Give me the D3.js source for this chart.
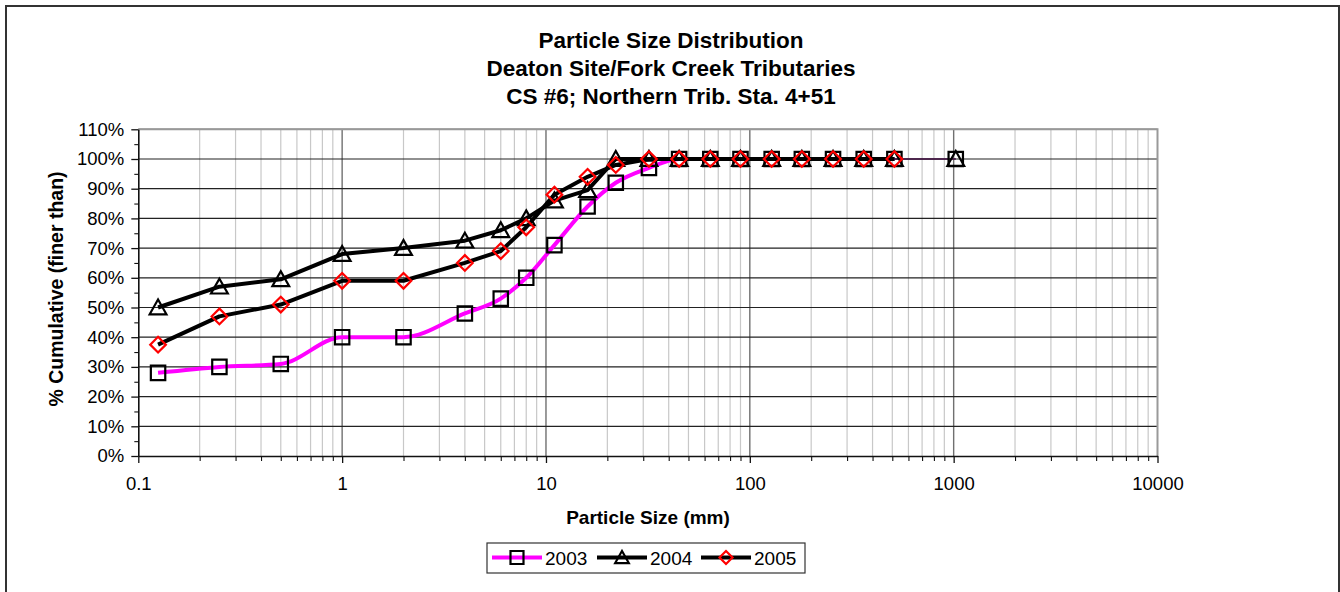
<!DOCTYPE html>
<html>
<head>
<meta charset="utf-8">
<script src="https://cdn.jsdelivr.net/npm/d3@7"></script>
<style>
  html, body { margin: 0; padding: 0; background: #fff; }
  svg { display: block; font-family: "Liberation Sans", Arial, sans-serif; }
</style>
</head>
<body>
<svg id="chart" width="1340" height="592"></svg>
<script>
// Sieve sizes (mm) and cumulative percent finer for each survey year
const sizes = [0.125, 0.25, 0.5, 1, 2, 4, 6, 8, 11, 16, 22, 32, 45, 64, 90, 128, 180, 256, 362, 512, 1024];
const pct2003 = [28, 30, 31, 40, 40, 48, 53, 60, 71, 84, 92, 97, 100, 100, 100, 100, 100, 100, 100, 100, 100];
const pct2004 = [50, 57, 59.5, 68, 70, 72.5, 76, 80, 86, 89.5, 100, 100, 100, 100, 100, 100, 100, 100, 100, 100, 100];
const pct2005 = [37.5, 47, 51, 59, 59, 65, 69, 77, 88, 94, 98, 100, 100, 100, 100, 100, 100, 100, 100, 100];

const years = ["2003", "2004", "2005"];
const xTicks = [0.1, 1, 10, 100, 1000, 10000];
const xTickLabels = ["0.1", "1", "10", "100", "1000", "10000"];
const yTicks = [0, 10, 20, 30, 40, 50, 60, 70, 80, 90, 100, 110];
const titleLines = ["Particle Size Distribution", "Deaton Site/Fork Creek Tributaries", "CS #6; Northern Trib. Sta. 4+51"];

const svg = d3.select("#chart");
const plot = { left: 138.3, right: 1157.5, top: 129.3, bottom: 456 };

const x = d3.scaleLog().domain([0.1, 10000]).range([plot.left, plot.right]);
const y = d3.scaleLinear().domain([0, 110]).range([plot.bottom, plot.top]);

// outer chart frame
svg.append("rect")
  .attr("x", 6).attr("y", 6).attr("width", 1333).attr("height", 600)
  .attr("fill", "#fff").attr("stroke", "#333").attr("stroke-width", 2);

// titles
svg.append("g").selectAll("text").data(titleLines).join("text")
  .attr("x", 671).attr("y", (d, i) => 48 + i * 28)
  .attr("text-anchor", "middle").attr("font-weight", "bold").attr("font-size", 22.5)
  .text(d => d);

// vertical gridlines: minor (2..9 per decade) then decades
const minorX = [];
for (let e = -1; e < 4; e++) for (let m = 2; m <= 9; m++) minorX.push(m * Math.pow(10, e));
const grid = svg.append("g");
grid.selectAll("line.minor").data(minorX).join("line")
  .attr("x1", d => x(d)).attr("x2", d => x(d))
  .attr("y1", plot.top).attr("y2", plot.bottom)
  .attr("stroke", "#c8c8c8").attr("stroke-width", 1.2);
grid.selectAll("line.major").data(xTicks.slice(1, -1)).join("line")
  .attr("x1", d => x(d)).attr("x2", d => x(d))
  .attr("y1", plot.top).attr("y2", plot.bottom)
  .attr("stroke", "#707070").attr("stroke-width", 1.4);
// horizontal gridlines
grid.selectAll("line.h").data(yTicks.slice(1)).join("line")
  .attr("x1", plot.left).attr("x2", plot.right)
  .attr("y1", d => y(d)).attr("y2", d => y(d))
  .attr("stroke", "#222").attr("stroke-width", 1.2);

// plot area border (top and right)
svg.append("path")
  .attr("d", `M${plot.left},${plot.top}H${plot.right}V${plot.bottom}`)
  .attr("fill", "none").attr("stroke", "#999").attr("stroke-width", 2);

// x axis
const xAxis = d3.axisBottom(x)
  .tickValues(xTicks).tickFormat((d, i) => xTickLabels[i])
  .tickSize(7).tickSizeOuter(0).tickPadding(14);
const gx = svg.append("g").attr("transform", `translate(0,${plot.bottom})`).call(xAxis);
gx.select(".domain").attr("stroke", "#111").attr("stroke-width", 1.6);
gx.selectAll(".tick line").attr("stroke", "#111").attr("stroke-width", 1.3);
gx.selectAll(".tick text").attr("font-size", 18.5).attr("font-family", "Liberation Sans, Arial, sans-serif").attr("fill", "#000");
const xMinor = d3.axisBottom(x).tickValues(minorX).tickFormat("").tickSize(5).tickSizeOuter(0);
const gxm = svg.append("g").attr("transform", `translate(0,${plot.bottom})`).call(xMinor);
gxm.select(".domain").remove();
gxm.selectAll(".tick line").attr("stroke", "#111").attr("stroke-width", 1.1);

// y axis
const yAxis = d3.axisLeft(y)
  .tickValues(yTicks).tickFormat(d => d + "%")
  .tickSize(7).tickSizeOuter(0).tickPadding(7);
const gy = svg.append("g").attr("transform", `translate(${plot.left},0)`).call(yAxis);
gy.select(".domain").attr("stroke", "#111").attr("stroke-width", 1.6);
gy.selectAll(".tick line").attr("stroke", "#111").attr("stroke-width", 1.3);
gy.selectAll(".tick text").attr("font-size", 18.5).attr("font-family", "Liberation Sans, Arial, sans-serif").attr("fill", "#000");
const yMinorVals = yTicks.slice(0, -1).map(d => d + 5);
const yMinor = d3.axisLeft(y).tickValues(yMinorVals).tickFormat("").tickSize(4).tickSizeOuter(0);
const gym = svg.append("g").attr("transform", `translate(${plot.left},0)`).call(yMinor);
gym.select(".domain").remove();
gym.selectAll(".tick line").attr("stroke", "#111").attr("stroke-width", 1.1);

// axis titles
svg.append("text").attr("x", 648).attr("y", 524)
  .attr("text-anchor", "middle").attr("font-weight", "bold").attr("font-size", 19)
  .text("Particle Size (mm)");
svg.append("text").attr("transform", "translate(63,289) rotate(-90)")
  .attr("text-anchor", "middle").attr("font-weight", "bold").attr("font-size", 19.5)
  .text("% Cumulative (finer than)");

// series (2003 drawn as a smoothed line without overshoot)
const seriesDefs = [
  { name: years[0], values: pct2003, color: "#ff00ff", curve: d3.curveMonotoneX, marker: "square", mstroke: "#000" },
  { name: years[1], values: pct2004, color: "#000", curve: d3.curveLinear, marker: "triangle", mstroke: "#000" },
  { name: years[2], values: pct2005, color: "#000", curve: d3.curveLinear, marker: "diamond", mstroke: "#ff0000" }
];

function markerPath(type, cx, cy, s) {
  if (type === "square") return `M${cx - s},${cy - s}h${2 * s}v${2 * s}h${-2 * s}Z`;
  if (type === "triangle") return `M${cx},${cy - s}L${cx + s * 1.05},${cy + s * 0.85}H${cx - s * 1.05}Z`;
  return `M${cx},${cy - s}L${cx + s},${cy}L${cx},${cy + s}L${cx - s},${cy}Z`;
}
const markerSize = { square: 7.2, triangle: 8, diamond: 7.8 };

const pts = s => s.values.map((v, i) => [sizes[i], v]);
const lineGen = c => d3.line().x(d => x(d[0])).y(d => y(d[1])).curve(c);

// thin hairline for the final span out to the 1024 mm boulder class
seriesDefs.forEach(s => {
  const p = pts(s);
  const last = p.filter(d => d[0] >= 512);
  if (last.length === 2) {
    svg.append("path").attr("d", lineGen(d3.curveLinear)(last))
      .attr("fill", "none").attr("stroke", "#4a204a").attr("stroke-width", 1.5);
  }
});

seriesDefs.forEach(s => {
  const p = pts(s).filter(d => d[0] <= 512);
  const g = svg.append("g");
  g.append("path").attr("d", lineGen(s.curve)(p))
    .attr("fill", "none").attr("stroke", s.color).attr("stroke-width", 4)
    .attr("stroke-linejoin", "round");
  g.selectAll("path.m").data(pts(s)).join("path")
    .attr("d", d => markerPath(s.marker, x(d[0]), y(d[1]), markerSize[s.marker]))
    .attr("fill", "none").attr("stroke", s.mstroke).attr("stroke-width", 2.2);
});

// legend
const lg = svg.append("g");
lg.append("rect").attr("x", 487).attr("y", 543).attr("width", 318).attr("height", 30)
  .attr("fill", "#fff").attr("stroke", "#333").attr("stroke-width", 1.2);
const legendX = [492, 597, 701];
seriesDefs.forEach((s, i) => {
  const lx = legendX[i], ly = 557.5;
  lg.append("line").attr("x1", lx).attr("x2", lx + 50).attr("y1", ly).attr("y2", ly)
    .attr("stroke", s.color).attr("stroke-width", 4);
  lg.append("path").attr("d", markerPath(s.marker, lx + 25, ly, 6.5))
    .attr("fill", "none").attr("stroke", s.mstroke).attr("stroke-width", 2.2);
  lg.append("text").attr("x", lx + 53).attr("y", ly + 7).attr("font-size", 19)
    .text(s.name);
});
</script>
</body>
</html>
